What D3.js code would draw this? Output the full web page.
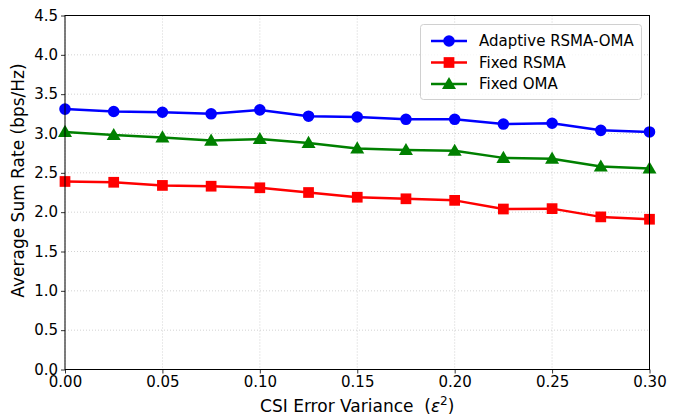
<!DOCTYPE html>
<html>
<head>
<meta charset="utf-8">
<script src="https://cdn.jsdelivr.net/npm/d3@7"></script>
<style>
  html, body { margin: 0; padding: 0; background: #fff; }
  svg { display: block; font-family: "DejaVu Sans", sans-serif; }
</style>
</head>
<body>
<svg id="chart" width="678" height="418"></svg>
<script>
const xValues = [0, 0.025, 0.05, 0.075, 0.1, 0.125, 0.15, 0.175, 0.2, 0.225, 0.25, 0.275, 0.3];
const adaptiveRsmaOma = [3.31, 3.28, 3.27, 3.25, 3.30, 3.22, 3.21, 3.18, 3.18, 3.12, 3.13, 3.04, 3.02];
const fixedRsma = [2.39, 2.38, 2.34, 2.33, 2.31, 2.25, 2.19, 2.17, 2.15, 2.04, 2.045, 1.94, 1.91];
const fixedOma = [3.02, 2.98, 2.95, 2.91, 2.93, 2.88, 2.81, 2.79, 2.78, 2.69, 2.68, 2.58, 2.555];
const seriesNames = ["Adaptive RSMA-OMA", "Fixed RSMA", "Fixed OMA"];
const xTicks = [0, 0.05, 0.1, 0.15, 0.2, 0.25, 0.3];
const yTicks = [0, 0.5, 1.0, 1.5, 2.0, 2.5, 3.0, 3.5, 4.0, 4.5];
const xLabel = "CSI Error Variance";
const yLabel = "Average Sum Rate (bps/Hz)";

(function () {
const series = [
  { name: seriesNames[0], values: adaptiveRsmaOma, color: "#0000ff", symbol: d3.symbolCircle },
  { name: seriesNames[1], values: fixedRsma, color: "#ff0000", symbol: d3.symbolSquare },
  { name: seriesNames[2], values: fixedOma, color: "#008000", symbol: d3.symbolTriangle }
];

const svg = d3.select("#chart");
const mL = 65, mR = 649.5, mT = 15.5, mB = 369.5;

const x = d3.scaleLinear().domain([0, 0.3]).range([mL, mR]);
const y = d3.scaleLinear().domain([0, 4.5]).range([mB, mT]);

const symSize = s => s === d3.symbolTriangle ? 85 : (s === d3.symbolSquare ? 115 : 105);
const symOff = s => s === d3.symbolTriangle ? 1 : 0;

// grid
const grid = svg.append("g");
grid.selectAll("line.gx").data(xTicks).join("line").attr("class", "gx")
  .attr("x1", d => x(d)).attr("x2", d => x(d))
  .attr("y1", mT).attr("y2", mB)
  .attr("stroke", "#b0b0b0").attr("stroke-width", 0.8)
  .attr("stroke-dasharray", "1,2").attr("opacity", 0.7);
grid.selectAll("line.gy").data(yTicks).join("line").attr("class", "gy")
  .attr("y1", d => y(d)).attr("y2", d => y(d))
  .attr("x1", mL).attr("x2", mR)
  .attr("stroke", "#b0b0b0").attr("stroke-width", 0.8)
  .attr("stroke-dasharray", "1,2").attr("opacity", 0.7);

// axes
const xAxis = svg.append("g").attr("transform", `translate(0,${mB})`)
  .call(d3.axisBottom(x).tickValues(xTicks).tickFormat(d3.format(".2f")).tickSize(4).tickPadding(3));
const yAxis = svg.append("g").attr("transform", `translate(${mL},0)`)
  .call(d3.axisLeft(y).tickValues(yTicks).tickFormat(d3.format(".1f")).tickSize(4).tickPadding(3));
[xAxis, yAxis].forEach(g => {
  g.select(".domain").remove();
  g.selectAll(".tick line").attr("stroke", "#000").attr("stroke-width", 0.8);
  g.selectAll(".tick text").attr("fill", "#000").style("font-size", "15px")
    .style("font-family", "'DejaVu Sans', sans-serif");
});

// lines and markers
const line = d3.line().x((d, i) => x(xValues[i])).y(d => y(d));
const plot = svg.append("g");
series.forEach(s => {
  plot.append("path").datum(s.values)
    .attr("d", line).attr("fill", "none")
    .attr("stroke", s.color).attr("stroke-width", 2.5).attr("stroke-linejoin", "round");
  const sym = d3.symbol().type(s.symbol).size(symSize(s.symbol));
  plot.selectAll(null).data(s.values).join("path")
    .attr("d", sym)
    .attr("transform", (d, i) => `translate(${x(xValues[i])},${y(d) + symOff(s.symbol)})`)
    .attr("fill", s.color);
});

// frame
svg.append("rect").attr("x", mL).attr("y", mT)
  .attr("width", mR - mL).attr("height", mB - mT)
  .attr("fill", "none").attr("stroke", "#000").attr("stroke-width", 1);

// legend
const lg = svg.append("g");
lg.append("rect").attr("x", 420.5).attr("y", 24.5).attr("width", 221).attr("height", 75)
  .attr("rx", 3).attr("fill", "#fff").attr("fill-opacity", 0.8)
  .attr("stroke", "#d0d0d0").attr("stroke-width", 1);
series.forEach((s, i) => {
  const yy = 41 + i * 21.5;
  lg.append("line").attr("x1", 431).attr("x2", 467).attr("y1", yy).attr("y2", yy)
    .attr("stroke", s.color).attr("stroke-width", 2.5);
  const sym = d3.symbol().type(s.symbol).size(symSize(s.symbol));
  lg.append("path").attr("d", sym)
    .attr("transform", `translate(449,${yy + symOff(s.symbol)})`)
    .attr("fill", s.color);
  lg.append("text").attr("x", 479).attr("y", yy).attr("dy", "0.36em")
    .style("font-size", "15px").attr("fill", "#000").text(s.name);
});

// axis labels
const xl = svg.append("text").attr("x", (mL + mR) / 2).attr("y", 412)
  .attr("text-anchor", "middle").style("font-size", "17px").attr("fill", "#000");
xl.append("tspan").text(xLabel + "\u00a0\u00a0(");
xl.append("tspan").style("font-style", "italic").text("\u03b5");
xl.append("tspan").attr("dy", -7).style("font-size", "12px").text("2");
xl.append("tspan").attr("dy", 7).text(")");

svg.append("text").attr("transform", `translate(24,${(mT + mB) / 2 - 12}) rotate(-90)`)
  .attr("text-anchor", "middle").style("font-size", "17px").attr("fill", "#000")
  .text(yLabel);
})();
</script>
</body>
</html>
